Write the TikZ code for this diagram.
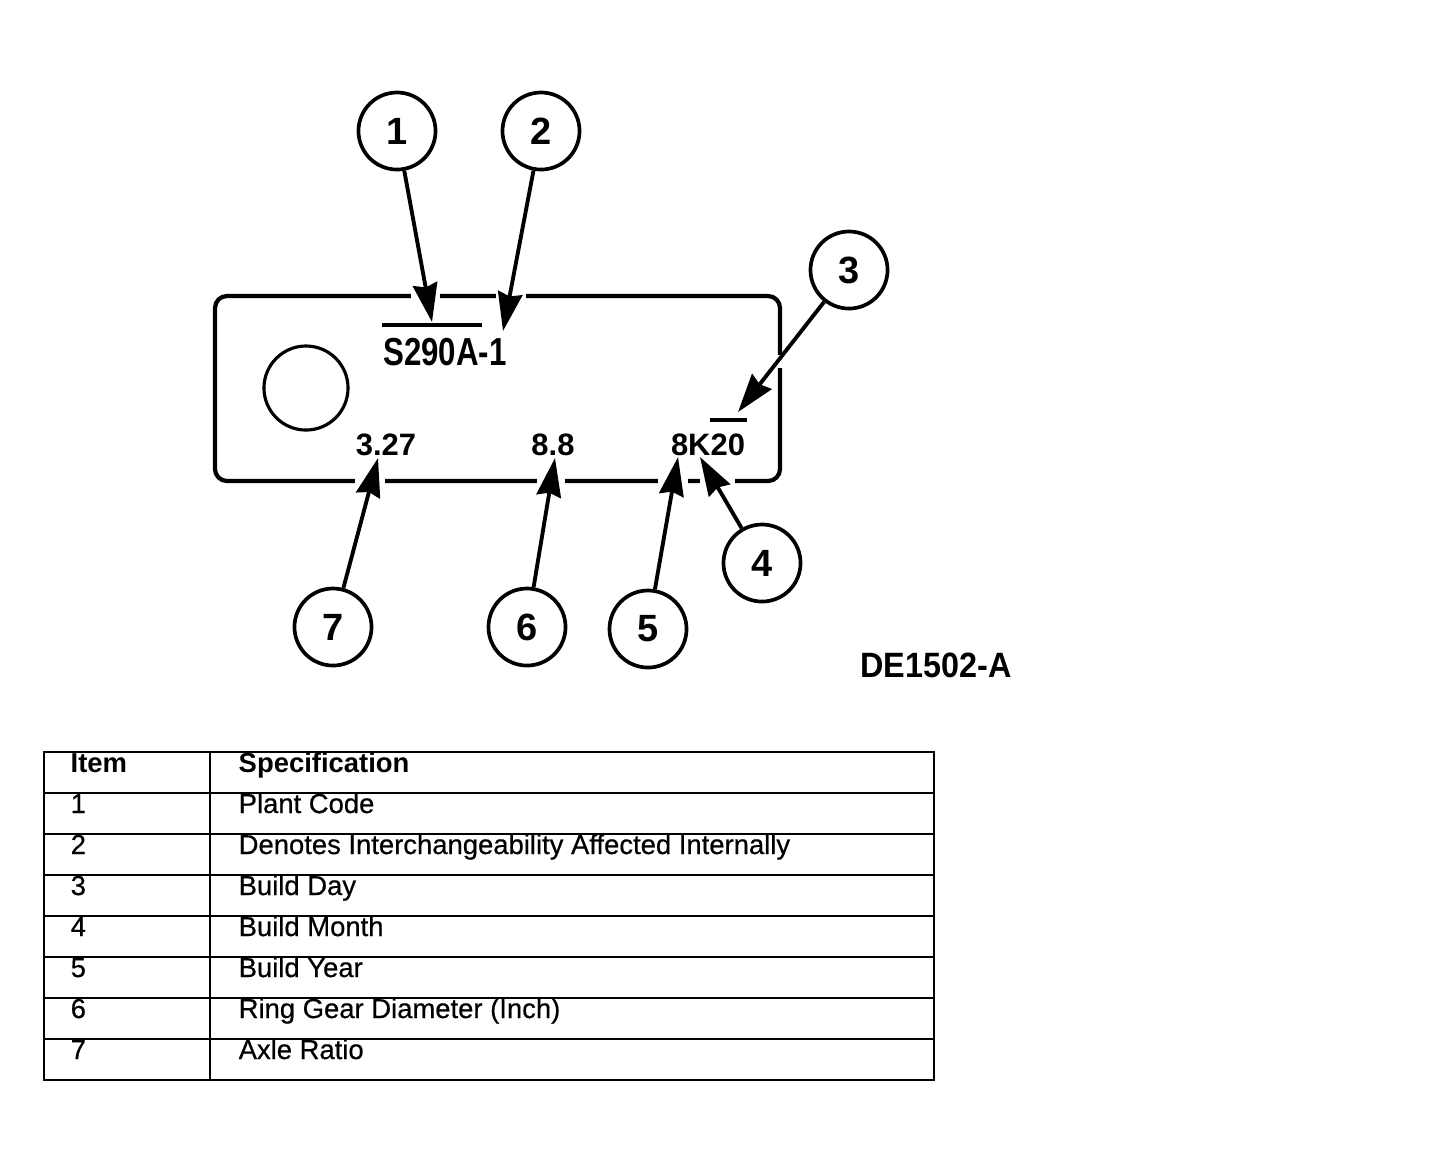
\documentclass[tikz,border=0pt]{standalone}
\usepackage{fontspec}
\setmainfont{Liberation Sans}
\newfontfamily\condsans[FakeStretch=0.8]{Liberation Sans}
\newfontfamily\tagsans[FakeStretch=0.92]{Liberation Sans}
\newfontfamily\cellsans[FakeBold=0.5]{Liberation Sans}
\usetikzlibrary{arrows.meta}

\begin{document}
\begin{tikzpicture}[x=0.01cm, y=-0.01cm,
  plate/.style={draw, line width=1.2pt, rounded corners=3.4pt},
  gap/.style={draw=white, line width=2.8pt},
  bar/.style={draw, line width=0.9pt},
  callout/.style={draw, circle, line width=1.05pt, minimum size=0.77cm, inner sep=0pt, font=\fontsize{10.8}{12}\selectfont\bfseries},
  stamp/.style={inner sep=0pt, anchor=base, font=\condsans\fontsize{11.1}{13}\selectfont\bfseries},
  stampsm/.style={inner sep=0pt, anchor=base, font=\fontsize{8.8}{10}\selectfont\bfseries},
  tag/.style={inner sep=0pt, anchor=base, font=\tagsans\fontsize{10}{12}\selectfont\bfseries},
  pointer/.style={line width=1.1pt, -{Stealth[length=11pt, width=7pt, inset=1pt]}},
  rule/.style={draw, line width=0.6pt},
  cell/.style={inner sep=0pt, anchor=base west, font=\cellsans\fontsize{7.8}{9}\selectfont},
  headcell/.style={inner sep=0pt, anchor=base west, font=\fontsize{7.8}{9}\selectfont\bfseries}
]
\useasboundingbox (0,0) rectangle (1440,1156);

% tag plate
\draw[plate] (215,296) rectangle (780,481);
\draw[line width=0.9pt] (306,388) circle [radius=0.42cm];

\node[stamp] (plant) at (445,365) {S290A-1};
\node[stampsm] (ratio) at (386,455) {3.27};
\node[stampsm] (gear) at (553,455) {8.8};
\node[stampsm] (date) at (708,455) {8K20};
\draw[bar] (382,325) -- (482,325);
\draw[bar] (710,420) -- (747,420);

% breaks in the plate outline
\draw[gap] (411,296) -- (440,296);
\draw[gap] (496,296) -- (526,296);
\draw[gap] (780,355) -- (780,368);
\draw[gap] (355,481) -- (385,481);
\draw[gap] (537,481) -- (565,481);
\draw[gap] (658,481) -- (688,481);
\draw[gap] (700,481) -- (735,481);

\node[callout] (c1) at (397,131) {1};
\node[callout] (c2) at (541,131) {2};
\node[callout] (c3) at (849,270) {3};
\node[callout] (c4) at (762,563) {4};
\node[callout] (c5) at (648,629) {5};
\node[callout] (c6) at (527,627) {6};
\node[callout] (c7) at (333,627) {7};

\coordinate (t1) at (432,322);
\coordinate (t2) at (503,331);
\coordinate (t3) at (738,412);
\coordinate (t4) at (700,457);
\coordinate (t5) at (678,457);
\coordinate (t6) at (555,458);
\coordinate (t7) at (378,458);

\draw[pointer] (c1) -- (t1);
\draw[pointer] (c2) -- (t2);
\draw[pointer] (c3) -- (t3);
\draw[pointer] (c4) -- (t4);
\draw[pointer] (c5) -- (t5);
\draw[pointer] (c6) -- (t6);
\draw[pointer] (c7) -- (t7);

\node[tag] (fig) at (936,677) {DE1502-A};

% legend table
\draw[rule] (44,752) rectangle (934,1080);
\draw[line width=0.45pt] (210,752) -- (210,1080);
\draw[rule] (44,793) -- (934,793) (44,834) -- (934,834) (44,875) -- (934,875)
  (44,916) -- (934,916) (44,957) -- (934,957) (44,998) -- (934,998) (44,1039) -- (934,1039);

\node[headcell] (itemhead) at (70,772) {Item};
\node[headcell] (spechead) at (238,772) {Specification};
\node[cell] (item1) at (70,813) {1};
\node[cell] (spec1) at (238,813) {Plant Code};
\node[cell] (item2) at (70,854) {2};
\node[cell] (spec2) at (238,854) {Denotes Interchangeability Affected Internally};
\node[cell] (item3) at (70,895) {3};
\node[cell] (spec3) at (238,895) {Build Day};
\node[cell] (item4) at (70,936) {4};
\node[cell] (spec4) at (238,936) {Build Month};
\node[cell] (item5) at (70,977) {5};
\node[cell] (spec5) at (238,977) {Build Year};
\node[cell] (item6) at (70,1018) {6};
\node[cell] (spec6) at (238,1018) {Ring Gear Diameter (Inch)};
\node[cell] (item7) at (70,1059) {7};
\node[cell] (spec7) at (238,1059) {Axle Ratio};

\end{tikzpicture}
\end{document}
